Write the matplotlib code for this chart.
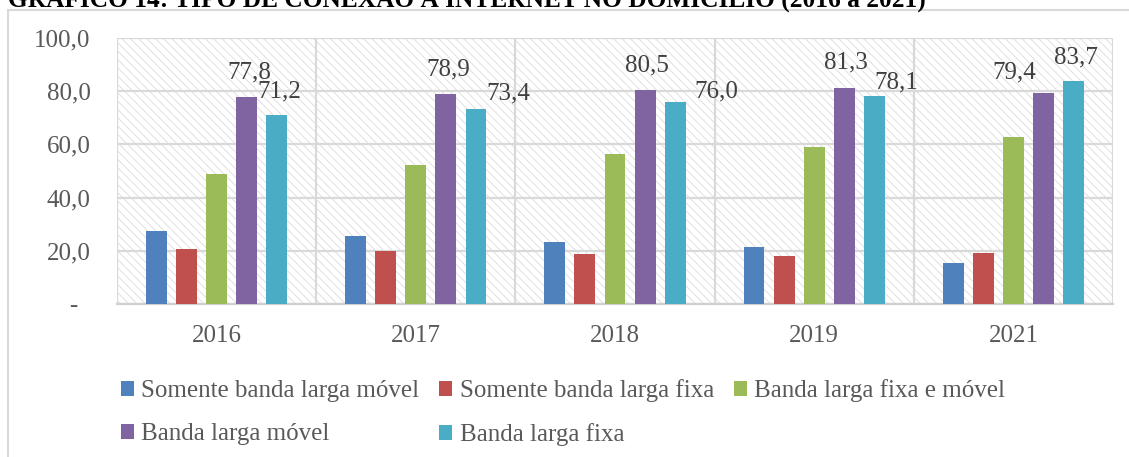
import matplotlib
matplotlib.use("Agg")
import matplotlib.pyplot as plt
import numpy as np
from matplotlib.patches import Rectangle

plt.rcParams['font.family'] = ['Liberation Serif', 'DejaVu Serif']
plt.rcParams['hatch.linewidth'] = 0.6

# data
anos = ['2016', '2017', '2018', '2019', '2021']
series = ['Somente banda larga móvel', 'Somente banda larga fixa',
          'Banda larga fixa e móvel', 'Banda larga móvel', 'Banda larga fixa']
somente_movel = [27.4, 25.6, 23.3, 21.4, 15.4]
somente_fixa = [20.8, 20.0, 18.8, 18.0, 19.2]
fixa_e_movel = [48.9, 52.3, 56.4, 59.1, 62.8]
banda_movel = [77.8, 78.9, 80.5, 81.3, 79.4]
banda_fixa = [71.2, 73.4, 76.0, 78.1, 83.7]
valores = [somente_movel, somente_fixa, fixa_e_movel, banda_movel, banda_fixa]
cores = ['#4f81bd', '#c0504d', '#9bbb59', '#8064a2', '#4bacc6']

# data labels only on the last two series; label offsets (px) as placed in the source
rotulos_offset = {
    3: [(3, 25), (2, 25), (2, 24), (2, 25), (-29, 20)],
    4: [(3, 23), (32, 15), (41, 10), (22, 14), (2, 24)],
}

txt = '#595959'
grid = '#d9d9d9'
px2pt = 72 / 100

fig = plt.figure(figsize=(11.29, 4.57), dpi=100)
ax = fig.add_axes([117 / 1129, 1 - 304 / 457, (1113 - 117) / 1129, (304 - 38) / 457])

# outer chart frame
fig.patches.append(Rectangle((8 / 1129, -0.1), 1.2, 1.1 - 10 / 457, transform=fig.transFigure,
                             facecolor='none', edgecolor=grid, linewidth=1.5, zorder=0))

# title, clipped at the top like in the source
fig.text(8 / 1129, 1 - 7 / 457, 'GRÁFICO 14: TIPO DE CONEXÃO À INTERNET NO DOMICÍLIO (2016 a 2021)',
         fontsize=18.3, fontweight='bold', color='black', va='baseline', ha='left')

# hatched plot background
ax.add_patch(Rectangle((0, 0), 1, 1, transform=ax.transAxes, facecolor='white',
                       edgecolor='#dcdcdc', linewidth=0, hatch='\\\\\\\\', zorder=0))

x = np.arange(len(anos))
passo = 0.151
largura = 0.105
handles = []
for i, (vals, cor) in enumerate(zip(valores, cores)):
    pos = x + (i - 2) * passo
    b = ax.bar(pos, vals, width=largura, color=cor, label=series[i], zorder=3)
    handles.append(b)
    if i in rotulos_offset:
        for px, v, (dx, dy) in zip(pos, vals, rotulos_offset[i]):
            ax.annotate(f'{v:.1f}'.replace('.', ','), (px, v), xytext=(dx * px2pt, dy * px2pt),
                        textcoords='offset points', ha='center', va='center',
                        fontsize=18, color='#404040', zorder=4)

ax.set_xlim(-0.5, len(anos) - 0.5)
ax.set_ylim(0, 100)
ax.set_xticks(x)
ax.set_xticklabels(anos)
ax.set_xticks(np.arange(-0.5, len(anos), 1), minor=True)
yt = [0, 20, 40, 60, 80, 100]
ax.set_yticks(yt)
ax.set_yticklabels(['-  '] + [f'{v:.1f}'.replace('.', ',') for v in yt[1:]])
ax.tick_params(axis='both', which='both', length=0, labelsize=18, colors=txt)
ax.tick_params(axis='x', pad=15)
ax.tick_params(axis='y', pad=19)
ax.grid(axis='y', which='major', color=grid, linewidth=1.6, zorder=1)
ax.grid(axis='x', which='minor', color=grid, linewidth=1.6, zorder=1)
ax.grid(axis='x', which='major', visible=False)
ax.set_axisbelow(True)
for s in ax.spines.values():
    s.set_visible(False)
ax.spines['bottom'].set_visible(True)
ax.spines['bottom'].set_color('#d0d0d0')
ax.spines['bottom'].set_linewidth(1.6)

# legend rows as in the source: 3 items then 2 items
ordem = [0, 3, 1, 4, 2]
leg = fig.legend([handles[k] for k in ordem], [series[k] for k in ordem], ncol=3,
                 loc='upper left', bbox_to_anchor=(108 / 1129, 1 - 367 / 457),
                 frameon=False, fontsize=18, borderpad=0, handlelength=0.52, handleheight=0.52,
                 handletextpad=0.3, columnspacing=0.8, labelspacing=0.84, labelcolor=txt)

fig.savefig('out.png', dpi=100)
